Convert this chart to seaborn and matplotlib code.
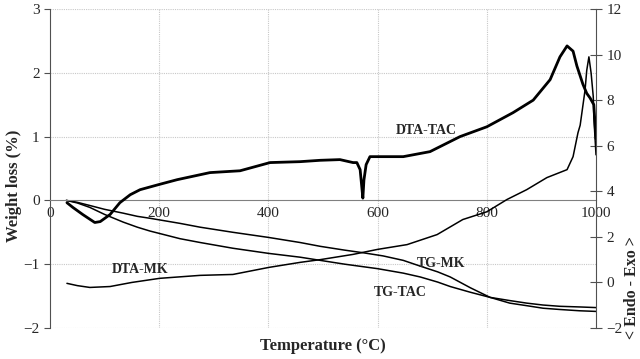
import matplotlib
matplotlib.use("Agg")
import matplotlib.pyplot as plt
import seaborn as sns

# TG curves (left axis, weight loss %)
tg_mk_t = [30, 50, 73, 100, 134, 160, 183, 238, 275, 335, 400, 458, 495, 540, 573, 610, 647, 678, 710, 733, 770, 806, 842, 873, 903, 934, 970, 1000]
tg_mk_w = [0, -0.03, -0.08, -0.14, -0.2, -0.25, -0.28, -0.36, -0.42, -0.5, -0.58, -0.66, -0.72, -0.78, -0.82, -0.87, -0.94, -1.03, -1.12, -1.2, -1.37, -1.52, -1.61, -1.65, -1.69, -1.71, -1.73, -1.74]

tg_tac_t = [30, 50, 73, 100, 134, 160, 183, 238, 275, 335, 400, 458, 495, 540, 600, 647, 678, 710, 733, 770, 806, 842, 873, 903, 934, 970, 1000]
tg_tac_w = [0, -0.04, -0.11, -0.22, -0.34, -0.42, -0.48, -0.6, -0.66, -0.75, -0.83, -0.89, -0.94, -1.0, -1.07, -1.14, -1.2, -1.28, -1.35, -1.44, -1.52, -1.57, -1.61, -1.64, -1.66, -1.67, -1.68]

# DTA curves (right axis, Endo - Exo)
dta_tac_t = [31, 42, 60, 82, 92, 110, 128, 147, 165, 200, 233, 293, 348, 403, 458, 495, 531, 555, 562, 568, 571, 573, 575, 579, 586, 604, 647, 696, 751, 800, 848, 885, 916, 934, 947, 958, 965, 976, 983, 989, 996, 1000]
dta_tac_v = [3.5, 3.29, 2.98, 2.63, 2.67, 2.98, 3.5, 3.85, 4.07, 4.3, 4.51, 4.82, 4.9, 5.26, 5.3, 5.36, 5.39, 5.26, 5.26, 4.95, 4.2, 3.7, 4.5, 5.17, 5.52, 5.52, 5.52, 5.74, 6.4, 6.83, 7.45, 8.0, 8.9, 9.9, 10.38, 10.15, 9.5, 8.7, 8.3, 8.1, 7.8, 6.3]

dta_mk_t = [31, 50, 73, 110, 150, 201, 275, 335, 401, 458, 495, 555, 600, 654, 709, 756, 800, 837, 873, 910, 947, 958, 967, 971, 980, 983, 987, 991, 995, 996, 1000]
dta_mk_v = [-0.04, -0.14, -0.22, -0.18, 0.0, 0.18, 0.31, 0.35, 0.66, 0.88, 1.0, 1.23, 1.45, 1.66, 2.1, 2.76, 3.1, 3.64, 4.07, 4.6, 4.95, 5.52, 6.57, 6.9, 8.45, 9.3, 9.9, 9.2, 8.15, 7.27, 5.6]

left_ticks = [-2, -1, 0, 1, 2, 3]
right_ticks = [-2, 0, 2, 4, 6, 8, 10, 12]
x_ticks = [0, 200, 400, 600, 800, 1000]

sns.set_style("white")
plt.rcParams['font.family'] = ['Liberation Serif', 'DejaVu Serif']

fig = plt.figure(figsize=(6.4, 3.59), dpi=100)
ax = fig.add_axes([50 / 640, 1 - 328 / 359, 546 / 640, 319 / 359])
ax2 = ax.twinx()

grid_kw = dict(color='#c8c8c8', lw=0.8, ls=(0, (1, 1)), zorder=0)
for xv in [200, 400, 600, 800]:
    ax.axvline(xv, **grid_kw)
for yv in [-2, -1, 1, 2, 3]:
    ax.axhline(yv, **grid_kw)

sns.lineplot(x=tg_mk_t, y=tg_mk_w, ax=ax, color='black', lw=1.1)
sns.lineplot(x=tg_tac_t, y=tg_tac_w, ax=ax, color='black', lw=1.1)
sns.lineplot(x=dta_tac_t, y=dta_tac_v, ax=ax2, color='black', lw=2.0)
sns.lineplot(x=dta_mk_t, y=dta_mk_v, ax=ax2, color='black', lw=1.1)

ax.set_xlim(0, 1000)
ax.set_ylim(-2, 3)
ax2.set_ylim(-2, 12)
ax.set_xticks(x_ticks)
ax.set_yticks(left_ticks)
ax2.set_yticks(right_ticks)

for a in (ax, ax2):
    a.spines['top'].set_visible(False)
    a.spines['bottom'].set_visible(False)
ax.spines['bottom'].set_visible(True)
ax.spines['bottom'].set_position(('data', 0))
ax.spines['bottom'].set_color('#808080')
ax.spines['left'].set_color('#505050')
ax.spines['right'].set_visible(False)
ax2.spines['left'].set_visible(False)
ax2.spines['right'].set_color('#505050')

ax.tick_params(axis='x', direction='out', length=3, color='#808080', labelsize=11, pad=2)
ax.tick_params(axis='y', direction='out', length=4, color='#505050', labelsize=11, left=True)
ax2.tick_params(axis='y', direction='inout', length=8, color='#505050', labelsize=11, right=True)

ax.set_xlabel('')
ax.set_ylabel('')
ax2.set_ylabel('')

lab_kw = dict(fontsize=10, fontweight='bold', ha='center', va='center')
ax.text(689, 1.10, 'DTA-TAC', **lab_kw)
ax.text(165, -1.08, 'DTA-MK', **lab_kw)
ax.text(716, -0.99, 'TG-MK', **lab_kw)
ax.text(641, -1.44, 'TG-TAC', **lab_kw)

fig.text(323 / 640, 1 - 346 / 359, 'Temperature (°C)', fontsize=12, fontweight='bold', ha='center', va='center')
fig.text(14 / 640, 1 - 186 / 359, 'Weight loss (%)', fontsize=12, fontweight='bold', ha='center', va='center', rotation=90)
fig.text(632 / 640, 1 - 288 / 359, '< Endo - Exo >', fontsize=11.5, fontweight='bold', ha='center', va='center', rotation=90)

fig.savefig('out.png', dpi=100)
